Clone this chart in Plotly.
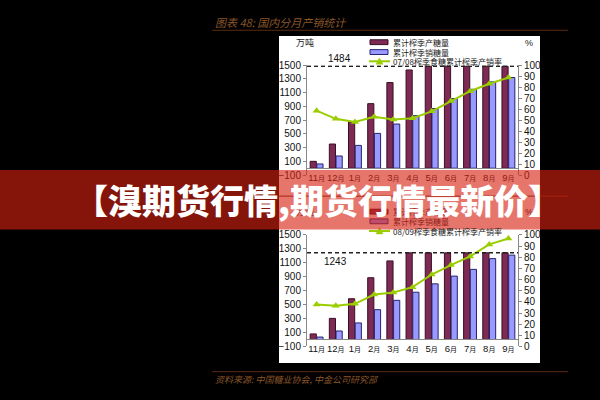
import plotly.graph_objects as go

# ---------------- data ----------------
categories = ["11月", "12月", "1月", "2月", "3月", "4月", "5月", "6月", "7月", "8月", "9月"]

prod_0708 = [100, 352, 678, 940, 1247, 1430, 1484, 1484, 1484, 1484, 1484]
sales_0708 = [62, 178, 332, 507, 643, 765, 868, 1014, 1149, 1257, 1320]
rate_0708 = [58.6, 51.2, 48.3, 53.0, 50.6, 51.8, 58.0, 67.4, 76.3, 83.1, 88.7]

prod_0809 = [80, 303, 585, 886, 1127, 1243, 1243, 1243, 1243, 1243, 1243]
sales_0809 = [35, 122, 238, 428, 562, 678, 798, 909, 1006, 1160, 1210]
rate_0809 = [37.7, 36.5, 38.2, 46.6, 48.4, 53.2, 64.5, 73.0, 80.7, 91.5, 96.8]

total_0708 = 1484
total_0809 = 1243

left_ticks = list(range(-100, 1501, 200))
right_ticks = list(range(0, 101, 10))

legend_prod = "累计榨季产糖量"
legend_sales = "累计榨季销糖量"
legend_rate_0708 = "07/08榨季食糖累计榨季产销率"
legend_rate_0809 = "08/09榨季食糖累计榨季产销率"

title_text = "图表 48: 国内分月产销统计"
source_text = "资料来源: 中国糖业协会, 中金公司研究部"
banner_text = "【溴期货行情,期货行情最新价】"

# ---------------- styles ----------------
W, H = 600, 400
PROD_C = "#7d2a55"
PROD_L = "#3a0f24"
SALES_C = "#9999ff"
SALES_L = "#24246e"
RATE_C = "#9acd00"
AXIS_C = "#888888"
TXT_FONT = "Liberation Sans, Arial, Noto Sans CJK SC"
CJK_FONT = "Noto Sans CJK SC, Liberation Sans"
BROWN = "#5a2a10"
TITLE_C = "#8a5628"
BANNER_RGB = (215, 32, 18)
BANNER_A = 0.62


def px(x):
    return x / W


def py(y):
    return 1 - y / H


def tint(hexcol):
    r, g, b = int(hexcol[1:3], 16), int(hexcol[3:5], 16), int(hexcol[5:7], 16)
    c = [round(BANNER_A * bc + (1 - BANNER_A) * v) for bc, v in zip(BANNER_RGB, (r, g, b))]
    return "rgb(%d,%d,%d)" % tuple(c)


x_dom = [px(307), px(518)]
top_dom = [py(174.3), py(61)]
bot_dom = [py(351), py(236)]
LMIN, LMAX = -100, 1500


def zero_pos(dom):
    return dom[0] + (dom[1] - dom[0]) * (0 - LMIN) / (LMAX - LMIN)


fig = go.Figure()

panels = [
    ("x", "y", "y2", prod_0708, sales_0708, rate_0708),
    ("x2", "y3", "y4", prod_0809, sales_0809, rate_0809),
]
for xa, ya, ya2, prod, sales, rate in panels:
    fig.add_trace(go.Bar(x=categories, y=prod, xaxis=xa, yaxis=ya, offsetgroup="p",
                         marker=dict(color=PROD_C, line=dict(color=PROD_L, width=1)),
                         showlegend=False, hoverinfo="skip"))
    fig.add_trace(go.Bar(x=categories, y=sales, xaxis=xa, yaxis=ya, offsetgroup="s",
                         marker=dict(color=SALES_C, line=dict(color=SALES_L, width=1)),
                         showlegend=False, hoverinfo="skip"))
    fig.add_trace(go.Scatter(x=categories, y=rate, xaxis=xa, yaxis=ya2, mode="lines+markers",
                             line=dict(color=RATE_C, width=2),
                             marker=dict(symbol="triangle-up", size=7, color=RATE_C),
                             showlegend=False, hoverinfo="skip"))

tickfont = dict(family=TXT_FONT, size=10, color="#111111")
xtickfont = dict(family=TXT_FONT, size=9.5, color="#111111")
month_text = [c.replace("月", "<span style='font-size:7px'>月</span>") for c in categories]


def xaxis_cfg(dom):
    return dict(domain=x_dom, anchor="free", position=zero_pos(dom), type="category",
                showline=True, linecolor=AXIS_C, linewidth=1, ticks="", showgrid=False,
                tickangle=0, tickfont=xtickfont, tickvals=categories, ticktext=month_text,
                range=[-0.5, len(categories) - 0.5], fixedrange=True)


def yleft_cfg(dom, xa):
    return dict(domain=dom, anchor=xa, range=[LMIN, LMAX], tickvals=left_ticks,
                ticks="outside", ticklen=3, tickcolor=AXIS_C, showline=True, linecolor=AXIS_C,
                showgrid=False, zeroline=False, tickfont=tickfont, fixedrange=True)


def yright_cfg(over, xa):
    return dict(overlaying=over, side="right", anchor=xa, range=[0, 100], tickvals=right_ticks,
                ticks="outside", ticklen=3, tickcolor=AXIS_C, showline=True, linecolor=AXIS_C,
                showgrid=False, zeroline=False, tickfont=tickfont, fixedrange=True)


shapes = []
# white panel
shapes.append(dict(type="rect", xref="paper", yref="paper", x0=px(279), x1=px(540),
                   y0=py(368), y1=py(31), fillcolor="white", line=dict(width=0), layer="below"))
# brown rules
for yy in (25, 196, 377):
    shapes.append(dict(type="line", xref="paper", yref="paper", x0=px(212), x1=px(568),
                       y0=py(yy), y1=py(yy), line=dict(color=BROWN, width=1), layer="above"))
# dashed totals
shapes.append(dict(type="line", xref="x domain", yref="y", x0=0, x1=1, y0=total_0708, y1=total_0708,
                   line=dict(color="#222222", width=1.5, dash="4px,3px"), layer="above"))
shapes.append(dict(type="line", xref="x2 domain", yref="y3", x0=0, x1=1, y0=total_0809, y1=total_0809,
                   line=dict(color="#222222", width=1.5, dash="4px,3px"), layer="above"))


def legend_shapes(rows):
    out = []
    r1, r2, r3 = rows
    out.append(dict(type="rect", xref="paper", yref="paper", x0=px(370), x1=px(388),
                    y0=py(r1 + 2.5), y1=py(r1 - 2.5), fillcolor=PROD_C,
                    line=dict(color=PROD_L, width=1), layer="above"))
    out.append(dict(type="rect", xref="paper", yref="paper", x0=px(370), x1=px(388),
                    y0=py(r2 + 2.5), y1=py(r2 - 2.5), fillcolor=SALES_C,
                    line=dict(color=SALES_L, width=1), layer="above"))
    out.append(dict(type="line", xref="paper", yref="paper", x0=px(369), x1=px(390),
                    y0=py(r3), y1=py(r3), line=dict(color=RATE_C, width=2), layer="above"))
    cx, cy = 379.5, r3
    path = "M %f,%f L %f,%f L %f,%f Z" % (px(cx - 3.5), py(cy + 3), px(cx + 3.5), py(cy + 3),
                                          px(cx), py(cy - 3.5))
    out.append(dict(type="path", xref="paper", yref="paper", path=path, fillcolor=RATE_C,
                    line=dict(color=RATE_C, width=0.5), layer="above"))
    return out


top_rows = (37.3, 47.5, 57)
bot_rows = (212, 222, 232)
shapes += legend_shapes(top_rows)
shapes += legend_shapes(bot_rows)

# banner (drawn last among shapes so it tints what is beneath)
shapes.append(dict(type="rect", xref="paper", yref="paper", x0=0, x1=1, y0=py(230.5), y1=py(169),
                   fillcolor="rgba(%d,%d,%d,%.2f)" % (BANNER_RGB + (BANNER_A,)),
                   line=dict(width=0), layer="above"))

annotations = []


def ann(text, x, y, size=8, color="#222222", family=CJK_FONT, xanchor="left", yanchor="middle",
        xref="paper", yref="paper", **kw):
    annotations.append(dict(text=text, x=x, y=y, xref=xref, yref=yref, showarrow=False,
                            xanchor=xanchor, yanchor=yanchor, borderpad=0,
                            font=dict(size=size, color=color, family=family, **kw)))


# title & source
ann(title_text, px(214), py(17), size=11, color=TITLE_C, style="italic")
ann(source_text, px(214), py(385), size=9, color=TITLE_C, style="italic")

# top panel texts
ann("万吨", px(295), py(37.5), size=9)
ann("%", px(524), py(38), size=9, family=TXT_FONT)
ann(legend_prod, px(392), py(top_rows[0]))
ann(legend_sales, px(392), py(top_rows[1]))
ann(legend_rate_0708, px(392), py(top_rows[2]))

# bottom panel texts (first rows lie under the banner -> tinted)
ann("万吨", px(295), py(212), size=9, color=tint("#222222"))
ann("%", px(524), py(212), size=9, family=TXT_FONT, color=tint("#222222"))
ann(legend_prod, px(392), py(bot_rows[0]), color=tint("#222222"))
ann(legend_sales, px(392), py(bot_rows[1]), color=tint("#222222"))
ann(legend_rate_0809, px(392), py(bot_rows[2]))

# total labels
annotations.append(dict(text=str(total_0708), x=1.22, y=total_0708, xref="x", yref="y",
                        showarrow=False, xanchor="center", yanchor="bottom", yshift=0,
                        font=dict(size=10, color="#111111", family=TXT_FONT)))
annotations.append(dict(text=str(total_0809), x=0.96, y=total_0809, xref="x2", yref="y3",
                        showarrow=False, xanchor="center", yanchor="top", yshift=-1,
                        font=dict(size=10, color="#111111", family=TXT_FONT)))

# banner headline
annotations.append(dict(text=banner_text, x=px(318), y=py(199), xref="paper", yref="paper",
                        showarrow=False, xanchor="center", yanchor="middle",
                        font=dict(size=34, color="white", family="Noto Sans CJK SC", weight=900)))

fig.update_layout(
    width=W, height=H,
    margin=dict(l=0, r=0, t=0, b=0),
    paper_bgcolor="black",
    plot_bgcolor="rgba(0,0,0,0)",
    barmode="group",
    bargap=0.3,
    bargroupgap=0.08,
    showlegend=False,
    xaxis=xaxis_cfg(top_dom),
    yaxis=yleft_cfg(top_dom, "x"),
    yaxis2=yright_cfg("y", "x"),
    xaxis2=xaxis_cfg(bot_dom),
    yaxis3=yleft_cfg(bot_dom, "x2"),
    yaxis4=yright_cfg("y3", "x2"),
    shapes=shapes,
    annotations=annotations,
)

fig.write_html("out.html", config={"displayModeBar": False})
